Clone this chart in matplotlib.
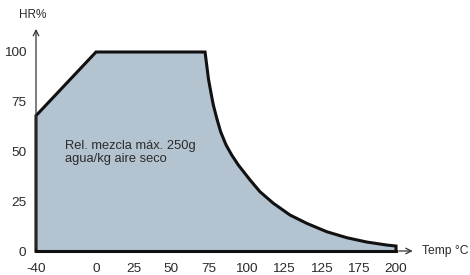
import matplotlib.pyplot as plt

# contorno de la zona de trabajo (temp °C, HR %)
temp = [-40, -40, 0, 72.7, 73.8, 74.9, 76.5, 78.2, 80.5, 83.1, 86.7, 90.5, 94.9,
        102.7, 109.3, 118.2, 129.3, 140.5, 153.8, 167.1, 180.5, 193.8, 200, 200]
hr = [0, 68, 100, 100, 93.5, 86.8, 80.1, 73.4, 66.7, 59.9, 53.3, 48.2, 43.2,
      35.7, 29.8, 24.0, 18.1, 13.9, 9.7, 6.7, 4.5, 3.0, 2.5, 0]

xticks = [-40, 0, 25, 50, 75, 100, 125, 150, 175, 200]
xlabels = ['-40', '0', '25', '50', '75', '100', '125', '125', '175', '200']
yticks = [0, 25, 50, 75, 100]

TXT = '#2b2b2b'
plt.rcParams['font.family'] = ['Liberation Sans', 'DejaVu Sans']

fig = plt.figure(figsize=(4.7, 2.75), dpi=100)
ax = fig.add_axes([36 / 470, 24 / 275, 360 / 470, 199 / 275])
ax.set_xlim(-40, 200)
ax.set_ylim(0, 100)
for s in ax.spines.values():
    s.set_visible(False)

ax.fill(temp, hr, facecolor='#b3c3d0', edgecolor='none', clip_on=False, zorder=1)
ax.plot(temp, hr, color='#111111', lw=2.2, clip_on=False, zorder=3,
        solid_joinstyle='miter')
ax.plot([-40, 200], [0, 0], color='#111111', lw=2.2, clip_on=False, zorder=3)

# ejes con flecha
ax.annotate('', xy=(-40, 113), xytext=(-40, 0), xycoords='data',
            arrowprops=dict(arrowstyle='->', color='#333333', lw=0.9), annotation_clip=False)
ax.annotate('', xy=(213, 0), xytext=(200, 0), xycoords='data',
            arrowprops=dict(arrowstyle='->', color='#333333', lw=0.9), annotation_clip=False)
ax.text(217.5, 0, 'Temp °C', ha='left', va='center', fontsize=8.7, color=TXT, clip_on=False)
ax.text(-42.5, 118.5, 'HR%', ha='center', va='center', fontsize=8.5, color=TXT, clip_on=False)

ax.set_xticks(xticks)
ax.set_xticklabels(xlabels)
ax.set_yticks(yticks)
ax.tick_params(axis='both', length=0, labelsize=9.7, labelcolor=TXT)
ax.tick_params(axis='x', pad=9)
ax.tick_params(axis='y', pad=7)

ax.text(-20.5, 49.5, 'Rel. mezcla máx. 250g\nagua/kg aire seco', ha='left', va='center',
        fontsize=9.3, color=TXT, linespacing=1.1)

fig.savefig('out.png', dpi=100)
